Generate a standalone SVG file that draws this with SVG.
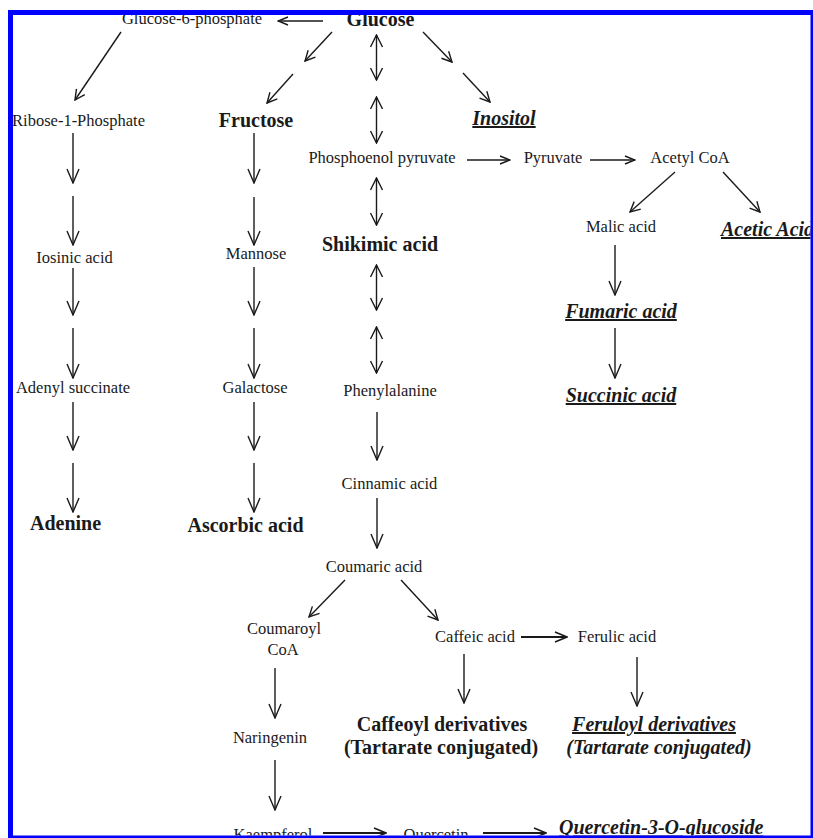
<svg xmlns="http://www.w3.org/2000/svg" width="813" height="838" viewBox="0 0 813 838">
<style>
text{font-family:"Liberation Serif","Times New Roman",serif;fill:#1a1a1a;text-anchor:middle}
.r{font-size:16.5px}
.b{font-size:20px;font-weight:bold}
.bi{font-size:20px;font-weight:bold;font-style:italic;text-decoration:underline}
.i{font-size:20px;font-weight:bold;font-style:italic}
#connectors line{stroke:#1a1a1a;stroke-width:1.4;fill:none}
#connectors .v{marker-end:url(#hv)}
#connectors .d{marker-end:url(#hd);marker-start:url(#hd)}
#connectors .s{marker-end:url(#hs)}
#connectors .m{marker-end:url(#hm)}
#connectors .t{stroke-width:1.9;marker-end:url(#ht)}
</style>
<defs>
<marker id="hv" viewBox="0 0 16 14" refX="15" refY="7" markerWidth="16" markerHeight="14" markerUnits="userSpaceOnUse" orient="auto"><path d="M1,1 L15,7 L1,13" fill="none" stroke="#1a1a1a" stroke-width="1.4"/></marker>
<marker id="hd" viewBox="0 0 14 14" refX="13" refY="7" markerWidth="14" markerHeight="14" markerUnits="userSpaceOnUse" orient="auto-start-reverse"><path d="M1,1 L13,7 L1,13" fill="none" stroke="#1a1a1a" stroke-width="1.4"/></marker>
<marker id="hs" viewBox="0 0 12 10" refX="11" refY="5" markerWidth="12" markerHeight="10" markerUnits="userSpaceOnUse" orient="auto"><path d="M1,1 L11,5 L1,9" fill="none" stroke="#1a1a1a" stroke-width="1.4"/></marker>
<marker id="hm" viewBox="0 0 12 12" refX="11" refY="6" markerWidth="12" markerHeight="12" markerUnits="userSpaceOnUse" orient="auto"><path d="M1,1 L11,6 L1,11" fill="none" stroke="#1a1a1a" stroke-width="1.4"/></marker>
<marker id="ht" viewBox="0 0 14 12" refX="13" refY="6" markerWidth="14" markerHeight="12" markerUnits="userSpaceOnUse" orient="auto"><path d="M1,1 L13,6 L1,11" fill="none" stroke="#1a1a1a" stroke-width="1.6"/></marker>
<clipPath id="frame"><rect x="13" y="15" width="797.5" height="820.5"/></clipPath>
</defs>
<rect width="813" height="838" fill="#fff"/>
<g clip-path="url(#frame)">
<g id="connectors">
<line class="s" x1="323" y1="21" x2="278" y2="21"/>
<line class="m" x1="332" y1="32" x2="305" y2="61"/>
<line class="m" x1="293" y1="74" x2="267" y2="103"/>
<line class="m" x1="121" y1="32" x2="75" y2="100"/>
<line class="m" x1="423" y1="32" x2="452" y2="62"/>
<line class="m" x1="463" y1="73" x2="490" y2="102"/>
<line class="v" x1="73" y1="133" x2="73" y2="183"/>
<line class="v" x1="73" y1="196" x2="73" y2="245"/>
<line class="v" x1="73" y1="268" x2="73" y2="315"/>
<line class="v" x1="73" y1="328" x2="73" y2="378"/>
<line class="v" x1="73" y1="402" x2="73" y2="450"/>
<line class="v" x1="73" y1="463" x2="73" y2="512"/>
<line class="v" x1="254" y1="133" x2="254" y2="183"/>
<line class="v" x1="254" y1="197" x2="254" y2="245"/>
<line class="v" x1="254" y1="267" x2="254" y2="315"/>
<line class="v" x1="254" y1="328" x2="254" y2="378"/>
<line class="v" x1="254" y1="402" x2="254" y2="450"/>
<line class="v" x1="254" y1="463" x2="254" y2="512"/>
<line class="d" x1="376.5" y1="35" x2="376.5" y2="80"/>
<line class="d" x1="376.5" y1="97" x2="376.5" y2="143"/>
<line class="d" x1="376.5" y1="178" x2="376.5" y2="225"/>
<line class="d" x1="376.5" y1="265" x2="376.5" y2="310"/>
<line class="d" x1="376.5" y1="327" x2="376.5" y2="373"/>
<line class="v" x1="377" y1="412" x2="377" y2="460"/>
<line class="v" x1="377" y1="498" x2="377" y2="548"/>
<line class="s" x1="467" y1="160" x2="510" y2="160"/>
<line class="s" x1="590" y1="160" x2="635" y2="160"/>
<line class="m" x1="675" y1="172" x2="630" y2="212"/>
<line class="m" x1="723" y1="172" x2="760" y2="212"/>
<line class="v" x1="615" y1="245" x2="615" y2="295"/>
<line class="v" x1="615" y1="328" x2="615" y2="378"/>
<line class="m" x1="345" y1="580" x2="309" y2="617"/>
<line class="m" x1="401" y1="580" x2="438" y2="620"/>
<line class="t" x1="521" y1="637" x2="567" y2="637"/>
<line class="v" x1="275" y1="668" x2="275" y2="718"/>
<line class="v" x1="464" y1="654" x2="464" y2="703"/>
<line class="v" x1="637" y1="657" x2="637" y2="706"/>
<line class="v" x1="275" y1="760" x2="275" y2="810"/>
<line class="t" x1="323" y1="833" x2="386" y2="833"/>
<line class="t" x1="483" y1="833" x2="546" y2="833"/>
</g>
<g id="n-g6p"><text class="r" x="192" y="24">Glucose-6-phosphate</text></g>
<g id="n-glucose"><text class="b" x="380.5" y="26">Glucose</text></g>
<g id="n-ribose"><text class="r" x="78.5" y="126">Ribose-1-Phosphate</text></g>
<g id="n-fructose"><text class="b" x="256" y="127">Fructose</text></g>
<g id="n-inositol"><text class="bi" x="504" y="125">Inositol</text></g>
<g id="n-pep"><text class="r" x="382" y="163">Phosphoenol pyruvate</text></g>
<g id="n-pyruvate"><text class="r" x="553" y="163">Pyruvate</text></g>
<g id="n-acetylcoa"><text class="r" x="690" y="163">Acetyl CoA</text></g>
<g id="n-malic"><text class="r" x="621" y="232">Malic acid</text></g>
<g id="n-acetic"><text class="bi" x="721" y="236" style="text-anchor:start">Acetic Acid</text></g>
<g id="n-shikimic"><text class="b" x="380" y="251">Shikimic acid</text></g>
<g id="n-iosinic"><text class="r" x="74.5" y="263">Iosinic acid</text></g>
<g id="n-mannose"><text class="r" x="256" y="259">Mannose</text></g>
<g id="n-fumaric"><text class="bi" x="621" y="318">Fumaric acid</text></g>
<g id="n-succinic"><text class="bi" x="621" y="402">Succinic acid</text></g>
<g id="n-adenyl"><text class="r" x="73" y="393">Adenyl succinate</text></g>
<g id="n-galactose"><text class="r" x="255" y="393">Galactose</text></g>
<g id="n-phenyl"><text class="r" x="390" y="396">Phenylalanine</text></g>
<g id="n-cinnamic"><text class="r" x="389.5" y="489">Cinnamic acid</text></g>
<g id="n-adenine"><text class="b" x="65.5" y="530">Adenine</text></g>
<g id="n-ascorbic"><text class="b" x="245.5" y="532">Ascorbic acid</text></g>
<g id="n-coumaric"><text class="r" x="374" y="572">Coumaric acid</text></g>
<g id="n-coumaroyl"><text class="r" x="284" y="634">Coumaroyl</text><text class="r" x="283" y="655">CoA</text></g>
<g id="n-caffeic"><text class="r" x="475" y="642">Caffeic acid</text></g>
<g id="n-ferulic"><text class="r" x="617" y="642">Ferulic acid</text></g>
<g id="n-caffeoyl"><text class="b" x="442" y="731">Caffeoyl derivatives</text><text class="b" x="441" y="754">(Tartarate conjugated)</text></g>
<g id="n-feruloyl"><text class="bi" x="654" y="731">Feruloyl derivatives</text><text class="i" x="659" y="754">(Tartarate conjugated)</text></g>
<g id="n-naringenin"><text class="r" x="270" y="743">Naringenin</text></g>
<g id="n-kaempferol"><text class="r" x="273" y="840">Kaempferol</text></g>
<g id="n-quercetin"><text class="r" x="436" y="840">Quercetin</text></g>
<g id="n-q3og"><text class="bi" x="559" y="834" style="text-anchor:start">Quercetin-3-O-glucoside</text></g>
</g>
<path d="M8,10H813V838H8Z M13,15V835.5H810.5V15Z" fill="#0000ff" fill-rule="evenodd"/>
</svg>
